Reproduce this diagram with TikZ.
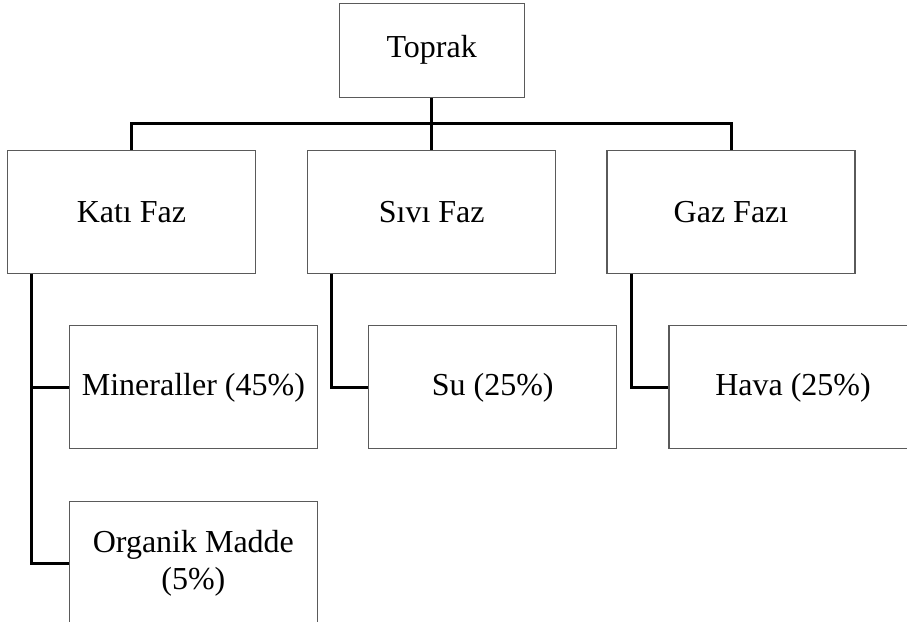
\documentclass[tikz,border=0pt]{standalone}
\usepackage{fontspec}
\setmainfont{Liberation Serif}
\usepackage{xcolor}
\usetikzlibrary{positioning,calc}
\definecolor{boxgray}{RGB}{90,90,90}

\begin{document}
\begin{tikzpicture}[font=\fontsize{32}{37}\selectfont,
    box/.style={draw=boxgray, line width=1.3pt, fill=white, align=center,
                minimum width=248pt, minimum height=123pt, inner sep=2pt},
    rootbox/.style={box, minimum width=185pt, minimum height=94pt},
    conn/.style={line width=3pt, black}]

    \useasboundingbox (0,0) rectangle (907pt,-621pt);

    \node[rootbox] (toprak) at (431.7pt,-50.2pt) {Toprak};
    \node[box, below=51.7pt of toprak] (sivi) {Sıvı Faz};
    \node[box, left=51pt of sivi] (kati) {Katı Faz};
    \node[box, right=50pt of sivi] (gaz) {Gaz Fazı};

    \node[box, below=51.3pt of kati, xshift=62pt] (mineral) {Mineraller (45\%)};
    \node[box, below=51.7pt of mineral] (organik) {Organik Madde\\(5\%)};
    \node[box, below=51.3pt of sivi, xshift=61pt] (su) {Su (25\%)};
    \node[box, below=51.3pt of gaz, xshift=62pt] (hava) {Hava (25\%)};

    \coordinate (bus) at ($(toprak.south)!0.5!(sivi.north)$);

    \draw[conn] (toprak.south) -- (sivi.north);
    \draw[conn] (kati.north) -- (kati.north |- bus) -- (gaz.north |- bus) -- (gaz.north);
    \draw[conn] ([xshift=24.7pt]kati.south west) |- (mineral.west);
    \draw[conn] ([xshift=24.7pt]kati.south west) |- (organik.west);
    \draw[conn] ([xshift=24pt]sivi.south west) |- (su.west);
    \draw[conn] ([xshift=25pt]gaz.south west) |- (hava.west);
\end{tikzpicture}
\end{document}
